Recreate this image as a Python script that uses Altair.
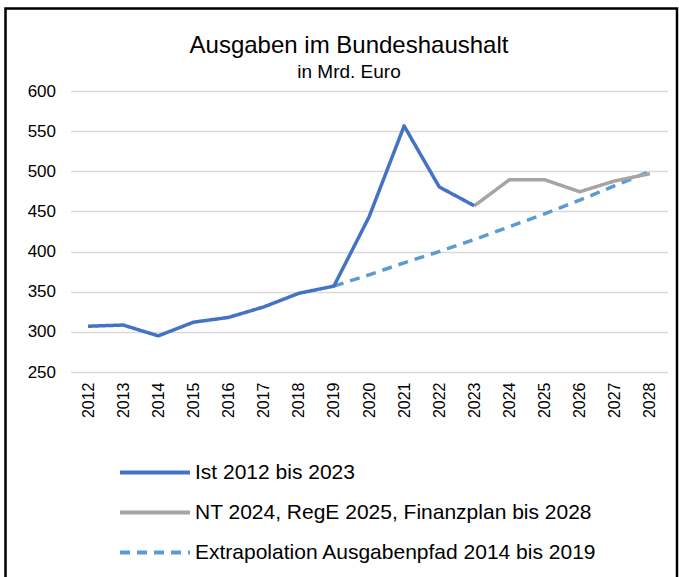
import altair as alt
import pandas as pd

years = [str(y) for y in range(2012, 2029)]

ist_years = years[0:12]
ist_values = [307, 308.5, 295, 312, 318, 331, 348, 357, 443, 556.5, 480.5, 457]

plan_years = years[11:17]
plan_values = [457, 489.5, 489.5, 474.5, 488, 497]

extra_years = years[7:17]
extra_values = [357, 371, 386, 400, 415, 431, 447, 464, 482, 500]

s_ist = "Ist 2012 bis 2023"
s_plan = "NT 2024, RegE 2025, Finanzplan bis 2028"
s_extra = "Extrapolation Ausgabenpfad 2014 bis 2019"
series_order = [s_ist, s_plan, s_extra]

rows = []
for y, v in zip(extra_years, extra_values):
    rows.append({"series": s_extra, "year": y, "value": v, "o": 0})
for y, v in zip(plan_years, plan_values):
    rows.append({"series": s_plan, "year": y, "value": v, "o": 1})
for y, v in zip(ist_years, ist_values):
    rows.append({"series": s_ist, "year": y, "value": v, "o": 2})
df = pd.DataFrame(rows)

FONT = "Liberation Sans"

lines = alt.Chart(df).mark_line(strokeWidth=3.5, strokeCap="butt", strokeJoin="round").encode(
    x=alt.X("year:O", sort=years, scale=alt.Scale(domain=years, padding=0.5),
            axis=alt.Axis(title=None, labelAngle=-90, labelFontSize=16, labelPadding=10,
                          ticks=False, domain=False, grid=False, labelColor="#000000",
                          labelBaseline="middle", labelAlign="right")),
    y=alt.Y("value:Q", scale=alt.Scale(domain=[250, 600], nice=False, zero=False),
            axis=alt.Axis(title=None, values=list(range(250, 601, 50)), labelFontSize=17,
                          labelPadding=15, ticks=False, domain=False, grid=True,
                          gridColor="#D9D9D9", gridWidth=1.5, labelColor="#000000")),
    color=alt.Color("series:N",
                    scale=alt.Scale(domain=series_order, range=["#4472C4", "#A5A5A5", "#5B9BD5"]),
                    legend=alt.Legend(title=None, orient="none", legendX=47.5, legendY=362,
                                      symbolType="M-1,0H3", symbolSize=1225, symbolStrokeWidth=4,
                                      labelFontSize=21, labelOffset=38, rowPadding=10,
                                      labelColor="#000000", labelLimit=600)),
    strokeDash=alt.StrokeDash("series:N",
                              scale=alt.Scale(domain=series_order, range=[[1, 0], [1, 0], [10, 7]]),
                              legend=None),
    order="o:Q",
)

frame = alt.Chart(alt.Data(values=[{"a": 1}])).mark_rect(
    fill=None, stroke="#000000", strokeWidth=2.5
).encode(
    x=alt.value(-65), x2=alt.value(606.5), y=alt.value(-82.5), y2=alt.value(520)
)

chart = alt.layer(lines, frame).properties(
    width=597, height=281,
    title=alt.TitleParams("Ausgaben im Bundeshaushalt", subtitle="in Mrd. Euro",
                          fontSize=24, subtitleFontSize=19, font=FONT, subtitleFont=FONT,
                          fontWeight="normal", color="#000000", subtitleColor="#000000",
                          anchor="middle", frame="group", dx=-20, offset=-74.5,
                          subtitlePadding=5),
    autosize=alt.AutoSizeParams(type="none"),
    padding={"left": 70.5, "top": 91, "right": 11.5, "bottom": 205},
).configure(font=FONT).configure_view(stroke=None)

chart.save("out.html", embed_options={"renderer": "svg", "actions": False})
